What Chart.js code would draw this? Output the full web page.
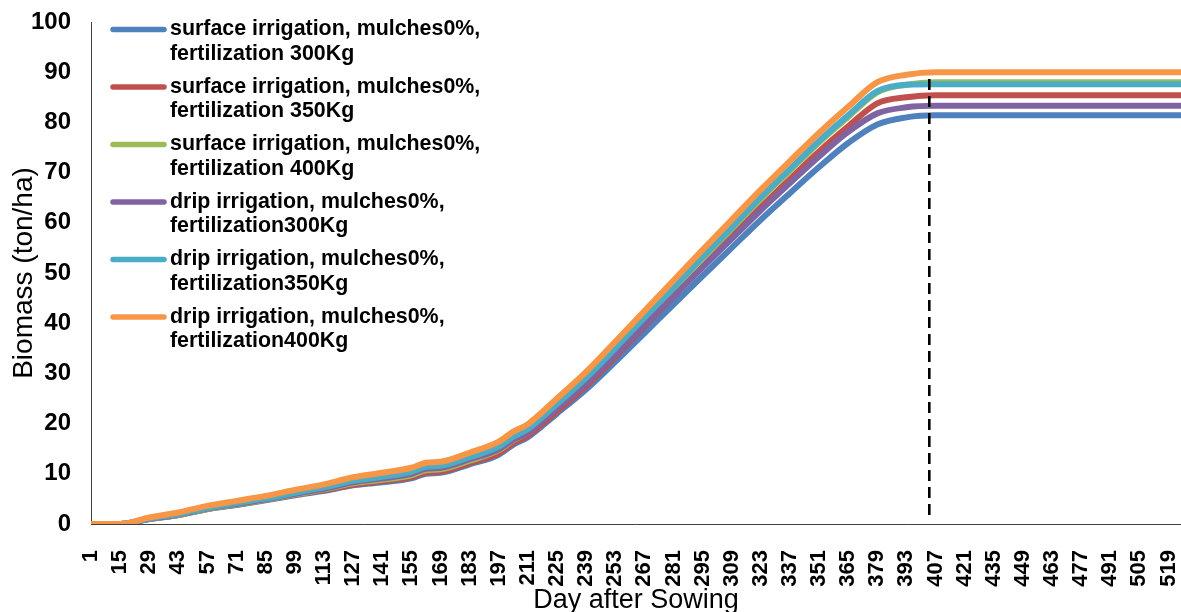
<!DOCTYPE html>
<html><head><meta charset="utf-8">
<script src="https://cdn.jsdelivr.net/npm/chart.js@4.4.1/dist/chart.umd.min.js"></script>
<style>html,body{margin:0;padding:0;background:#fff}#wrap{width:1181px;height:612px;position:relative}</style>
</head><body><div id="wrap"><canvas id="c"></canvas></div>
<script>
// ---- data ----
const days = [1,15,29,43,57,71,85,99,113,127,141,155,162,169,183,197,204,211,225,239,253,267,281,295,309,323,337,351,365,379,393,407,525];
const surface300 = [0,0,1.0,1.8,3.0,3.8,4.7,5.7,6.6,7.7,8.3,9.1,10.0,10.2,11.9,13.8,15.8,17.3,22.0,26.8,32.3,38.0,43.7,49.4,55.0,60.6,65.9,71.1,75.9,79.6,81.0,81.4,81.4];
const surface350 = [0,0,1.0,1.8,3.0,3.9,4.8,5.8,6.7,7.8,8.5,9.3,10.2,10.4,12.1,14.1,16.1,17.6,22.4,27.5,33.3,39.3,45.3,51.3,57.2,63.1,68.7,74.2,79.2,83.8,85.0,85.4,85.4];
const surface400 = [0,0,1.0,1.8,3.0,3.9,4.8,5.9,6.9,8.1,8.8,9.7,10.7,10.9,12.6,14.7,16.7,18.2,23.3,28.6,34.6,40.7,46.8,52.9,58.8,64.8,70.4,76.0,81.1,86.0,87.5,88.0,88.0];
const drip300 = [0,0,1.0,1.9,3.1,4.0,4.9,6.0,7.0,8.3,9.1,10.0,11.0,11.2,12.9,14.9,16.8,18.2,23.0,28.0,33.7,39.5,45.3,51.1,56.8,62.5,67.9,73.2,78.1,81.8,83.0,83.3,83.3];
const drip350 = [0,0,1.1,2.0,3.2,4.2,5.1,6.2,7.3,8.6,9.4,10.4,11.4,11.6,13.3,15.4,17.4,18.9,23.9,29.1,35.0,41.1,47.1,53.2,59.1,65.1,70.7,76.3,81.4,86.2,87.5,87.6,87.6];
const drip400 = [0,0,1.3,2.3,3.6,4.6,5.6,6.8,7.9,9.3,10.2,11.2,12.2,12.4,14.2,16.4,18.4,19.9,25.0,30.3,36.3,42.4,48.5,54.6,60.6,66.6,72.3,77.9,83.1,88.0,89.5,90.0,90.0];
const tickDays = [1,15,29,43,57,71,85,99,113,127,141,155,169,183,197,211,225,239,253,267,281,295,309,323,337,351,365,379,393,407,421,435,449,463,477,491,505,519];
const dayMax = 525;
const markerDay = 404;
const markerRange = [1.8, 89.1];
const seriesLabels = [
  ['surface irrigation, mulches0%,', 'fertilization 300Kg'],
  ['surface irrigation, mulches0%,', 'fertilization 350Kg'],
  ['surface irrigation, mulches0%,', 'fertilization 400Kg'],
  ['drip irrigation, mulches0%,', 'fertilization300Kg'],
  ['drip irrigation, mulches0%,', 'fertilization350Kg'],
  ['drip irrigation, mulches0%,', 'fertilization400Kg']
];
const seriesValues = [surface300, surface350, surface400, drip300, drip350, drip400];
const seriesColors = ['#4F81BD', '#C0504D', '#9BBB59', '#8064A2', '#4BACC6', '#F79646'];

const FONT = '"Liberation Sans", Arial, Helvetica, sans-serif';

const datasets = seriesValues.map((vals, i) => ({
  label: seriesLabels[i].join(' '),
  legendLines: seriesLabels[i],
  data: days.map((d, k) => ({x: d, y: vals[k]})),
  borderColor: seriesColors[i],
  backgroundColor: seriesColors[i],
  borderWidth: 6,
  pointRadius: 0,
  cubicInterpolationMode: 'monotone',
  order: seriesValues.length - i
}));
datasets.push({
  label: 'marker',
  data: [{x: markerDay, y: markerRange[0]}, {x: markerDay, y: markerRange[1]}],
  borderColor: '#000',
  borderWidth: 2.6,
  borderDash: [11, 6],
  pointRadius: 0,
  tension: 0,
  order: 0
});

const legendPlugin = {
  id: 'customLegend',
  afterDraw(chart) {
    const ctx = chart.ctx;
    ctx.save();
    ctx.font = 'bold 21.4px ' + FONT;
    ctx.textBaseline = 'middle';
    ctx.textAlign = 'left';
    ctx.fillStyle = '#000';
    chart.data.datasets.forEach((ds, i) => {
      if (!ds.legendLines) return;
      const y = 29.5 + i * 57.5;
      ctx.strokeStyle = ds.borderColor;
      ctx.lineWidth = 5.5;
      ctx.lineCap = 'round';
      ctx.beginPath(); ctx.moveTo(113, y); ctx.lineTo(164, y); ctx.stroke();
      ds.legendLines.forEach((t, k) => ctx.fillText(t, 170, y + k * 24.5));
    });
    ctx.restore();
  }
};

new Chart(document.getElementById('c'), {
  type: 'line',
  data: { datasets },
  options: {
    responsive: true,
    maintainAspectRatio: false,
    animation: false,
    layout: { padding: { top: 22, right: 0, left: 0, bottom: 0 } },
    plugins: { legend: { display: false }, tooltip: { enabled: false } },
    scales: {
      x: {
        type: 'linear', min: 1, max: dayMax,
        grid: { display: false },
        border: { display: true, color: '#404040', width: 1 },
        afterBuildTicks: s => { s.ticks = tickDays.map(v => ({ value: v })); },
        afterFit: s => { s.height = 88; s.paddingLeft = 0; s.paddingRight = 0; },
        ticks: { autoSkip: false, minRotation: 90, maxRotation: 90, padding: 18, color: '#000',
                 font: { family: FONT, size: 22, weight: 'bold' } },
        title: { display: true, text: 'Day after Sowing', color: '#000',
                 font: { family: FONT, size: 27, lineHeight: 1 }, padding: { top: 0, bottom: -2 } }
      },
      y: {
        min: 0, max: 100,
        grid: { display: false },
        border: { display: true, color: '#404040', width: 1 },
        afterFit: s => { s.width = 91; s.paddingTop = 0; s.paddingBottom = 0; },
        ticks: { stepSize: 10, padding: 12, color: '#000',
                 font: { family: FONT, size: 24, weight: 'bold' } },
        title: { display: true, text: 'Biomass (ton/ha)', color: '#000',
                 font: { family: FONT, size: 28, lineHeight: 1 }, padding: { top: 10, bottom: 0 } }
      }
    }
  },
  plugins: [legendPlugin]
});
</script>
</body></html>
